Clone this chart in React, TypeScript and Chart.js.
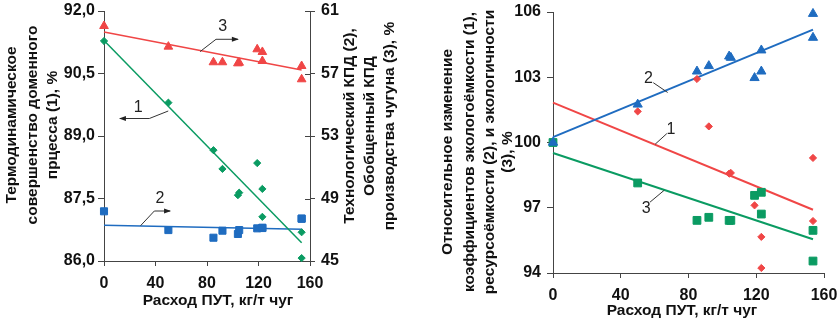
import React, { useEffect, useRef } from "react";
import { Chart, registerables } from "chart.js";

Chart.register(...registerables);

// ---------- data ----------
const putConsumption = [0, 50, 85, 92, 104, 105, 119, 123, 123, 153.5, 153.5];

// left panel
const thermoPerfection = [91.28, 89.8, 88.66, 88.21, 87.58, 87.64, 88.35, 87.73, 87.06, 86.69, 86.07]; // (1), left axis
const techEfficiency = [48.18, 46.98, 46.49, 46.94, 46.73, 46.98, 47.09, 47.13, 47.11, 47.71, 47.71]; // (2), right axis
const generalEfficiency = [60.04, 58.72, 57.72, 57.72, 57.65, 57.69, 58.55, 58.38, 57.8, 57.48, 56.63]; // (3), right axis

const trendX = [0, 153.5];
const thermoTrend = [91.29, 86.44];
const techTrend = [47.29, 47.03];
const generalTrend = [59.65, 57.22];

// right panel
const ecoIntensity = [100, 101.43, 102.92, 100.74, 98.57, 98.6, 97.11, 95.66, 94.23, 99.29, 96.39]; // (1)
const resIntensity = [100, 101.75, 103.27, 103.52, 103.96, 103.9, 102.97, 104.24, 103.27, 105.92, 104.82]; // (2)
const ecoFriendliness = [100, 98.14, 96.42, 96.56, 96.42, 96.42, 97.57, 97.71, 96.71, 95.96, 94.55]; // (3)

const ecoIntensityTrend = [101.83, 96.91];
const resIntensityTrend = [100.25, 105.19];
const ecoFriendlinessTrend = [99.52, 95.55];

// axis ranges / ticks
const xRange = [0, 160, 40];
const leftYRange = [86, 92, 1.5];
const leftY2Range = [45, 61, 4];
const rightYRange = [94, 106, 3];

// texts
const xTitle = "Расход ПУТ, кг/т чуг";
const leftYTitle = ["Термодинамическое", "совершенство доменного", "прцесса (1), %"];
const leftY2Title = ["Технологический КПД (2),", "Обобщенный КПД", "производства чугуна (3), %"];
const rightYTitle = [
  "Относительное изменение",
  "коэффициентов экологоёмкости (1),",
  "ресурсоёмкости (2), и экологичности",
  "(3), %",
];

type Ann = { text: string; tx: number; ty: number; path: [number, number][]; arrow?: "left" | "right"; yAxis: string };

const leftAnnotations: Ann[] = [
  { text: "3", tx: 92.2, ty: 60.0, path: [[74.6, 58.4], [87, 59.19], [104, 59.19]], arrow: "right", yAxis: "y2" },
  { text: "1", tx: 26.6, ty: 89.69, path: [[49.9, 89.6], [35.2, 89.42], [12.4, 89.42]], arrow: "left", yAxis: "y" },
  { text: "2", tx: 43.5, ty: 48.97, path: [[28.4, 47.26], [39.1, 48.2], [51.3, 48.2]], arrow: "right", yAxis: "y2" },
];
const rightAnnotations: Ann[] = [
  { text: "2", tx: 56.3, ty: 102.95, path: [[59.2, 102.75], [67.7, 102.3]], yAxis: "y" },
  { text: "1", tx: 69.7, ty: 100.6, path: [[67.2, 100.41], [60.3, 99.92]], yAxis: "y" },
  { text: "3", tx: 55, ty: 96.96, path: [[57.3, 97.26], [65.6, 97.8]], yAxis: "y" },
];

// ---------- styles ----------
const GREEN = "#0a9b62";
const RED = "#f04646";
const BLUE = "#1f6cc0";
const AXIS = "#444";
const TEXT = "#111";
const FONT_FAMILY = "'Liberation Sans', Arial, sans-serif";
const tickFont = { family: FONT_FAMILY, size: 16, weight: "bold" as const };

const pts = (xs: number[], ys: number[]) => xs.map((x, i) => ({ x, y: ys[i] }));
const fmtComma = (v: number) => v.toFixed(1).replace(".", ",");

function annotationPlugin(anns: Ann[]) {
  return {
    id: "anns",
    afterDatasetsDraw(chart: any) {
      const ctx = chart.ctx as CanvasRenderingContext2D;
      const xs = chart.scales.x;
      ctx.save();
      ctx.strokeStyle = "#333";
      ctx.fillStyle = "#222";
      ctx.lineWidth = 1;
      for (const a of anns) {
        const ys = chart.scales[a.yAxis];
        const p = a.path.map(([x, y]) => [xs.getPixelForValue(x), ys.getPixelForValue(y)]);
        ctx.beginPath();
        p.forEach(([px, py], i) => (i ? ctx.lineTo(px, py) : ctx.moveTo(px, py)));
        ctx.stroke();
        if (a.arrow) {
          const [ex, ey] = p[p.length - 1];
          const d = a.arrow === "right" ? 1 : -1;
          ctx.beginPath();
          ctx.moveTo(ex + d * 1, ey);
          ctx.lineTo(ex - d * 6, ey - 2.5);
          ctx.lineTo(ex - d * 6, ey + 2.5);
          ctx.closePath();
          ctx.fill();
        }
        ctx.font = `16px ${FONT_FAMILY}`;
        ctx.textAlign = "center";
        ctx.textBaseline = "middle";
        ctx.fillText(a.text, xs.getPixelForValue(a.tx), ys.getPixelForValue(a.ty));
      }
      ctx.restore();
    },
  };
}

type TitleSpec = { lines: string[]; xs: number[]; cy: number };
function titlesPlugin(vTitles: TitleSpec[], xT: { cx: number; baseline: number }, innerRightTicks: boolean) {
  return {
    id: "titles",
    afterDraw(chart: any) {
      const ctx = chart.ctx as CanvasRenderingContext2D;
      ctx.save();
      ctx.fillStyle = TEXT;
      ctx.font = `bold 15.5px ${FONT_FAMILY}`;
      for (const t of vTitles) {
        t.lines.forEach((line, i) => {
          ctx.save();
          ctx.translate(t.xs[i], t.cy);
          ctx.rotate(-Math.PI / 2);
          ctx.textAlign = "center";
          ctx.textBaseline = "middle";
          ctx.fillText(line, 0, 0);
          ctx.restore();
        });
      }
      ctx.textAlign = "center";
      ctx.textBaseline = "alphabetic";
      ctx.fillText(xTitle, xT.cx, xT.baseline);
      if (innerRightTicks && chart.scales.y2) {
        const s = chart.scales.y2;
        const r = chart.chartArea.right;
        ctx.strokeStyle = AXIS;
        ctx.lineWidth = 1;
        s.ticks.forEach((tk: any) => {
          const y = Math.round(s.getPixelForValue(tk.value)) + 0.5;
          ctx.beginPath();
          ctx.moveTo(r - 5, y);
          ctx.lineTo(r, y);
          ctx.stroke();
        });
      }
      ctx.restore();
    },
  };
}

function axisCommon(tickLength: number) {
  return {
    grid: { display: true, drawOnChartArea: false, drawTicks: true, tickLength, color: AXIS, lineWidth: 1 },
    border: { display: true, color: AXIS, width: 1 },
  };
}

function xScale(height: number) {
  return {
    type: "linear" as const,
    min: xRange[0],
    max: xRange[1],
    ...axisCommon(5),
    ticks: { stepSize: xRange[2], font: tickFont, color: TEXT, padding: 8, maxRotation: 0 },
    afterFit: (s: any) => {
      s.height = height;
      s.paddingLeft = 0;
      s.paddingRight = 0;
    },
  };
}

export default function App() {
  const leftRef = useRef<HTMLCanvasElement>(null);
  const rightRef = useRef<HTMLCanvasElement>(null);

  useEffect(() => {
    const trendDs = (ys: number[], color: string, yAxisID: string, width: number) => ({
      data: pts(trendX, ys),
      showLine: true,
      borderColor: color,
      borderWidth: width,
      pointRadius: 0,
      yAxisID,
      fill: false,
      clip: false,
    });
    const markDs = (ys: number[], color: string, style: string, radius: number, yAxisID: string) => ({
      data: pts(putConsumption, ys),
      showLine: false,
      pointStyle: style,
      pointRadius: radius,
      pointBackgroundColor: color,
      pointBorderColor: color,
      pointBorderWidth: 1,
      yAxisID,
      clip: false,
    });

    const left = new Chart(leftRef.current!, {
      type: "scatter",
      data: {
        datasets: [
          markDs(techEfficiency, BLUE, "rect", 5, "y2"),
          markDs(thermoPerfection, GREEN, "rectRot", 3.6, "y"),
          markDs(generalEfficiency, RED, "triangle", 5, "y2"),
          trendDs(thermoTrend, GREEN, "y", 1.5),
          trendDs(techTrend, BLUE, "y2", 1.5),
          trendDs(generalTrend, RED, "y2", 1.5),
        ] as any,
      },
      options: {
        animation: false,
        responsive: false,
        layout: { padding: { top: 11, left: 0, right: 0, bottom: 0 } },
        plugins: { legend: { display: false }, tooltip: { enabled: false } },
        scales: {
          x: xScale(61),
          y: {
            type: "linear",
            position: "left",
            min: leftYRange[0],
            max: leftYRange[1],
            ...axisCommon(6),
            ticks: { stepSize: leftYRange[2], font: tickFont, color: TEXT, padding: 3, callback: (v: any) => fmtComma(Number(v)) },
            afterFit: (s: any) => {
              s.width = 104;
              s.paddingTop = 0;
              s.paddingBottom = 0;
            },
          },
          y2: {
            type: "linear",
            position: "right",
            min: leftY2Range[0],
            max: leftY2Range[1],
            ...axisCommon(5),
            ticks: { stepSize: leftY2Range[2], font: tickFont, color: TEXT, padding: 6 },
            afterFit: (s: any) => {
              s.width = 110;
              s.paddingTop = 0;
              s.paddingBottom = 0;
            },
          },
        } as any,
      },
      plugins: [
        annotationPlugin(leftAnnotations),
        titlesPlugin(
          [
            { lines: leftYTitle, xs: [12, 33, 53], cy: 125 },
            { lines: leftY2Title, xs: [350, 370, 390], cy: 126 },
          ],
          { cx: 218, baseline: 305 },
          true
        ),
      ],
    });

    const right = new Chart(rightRef.current!, {
      type: "scatter",
      data: {
        datasets: [
          markDs(resIntensity, BLUE, "triangle", 5.3, "y"),
          markDs(ecoFriendliness, GREEN, "rect", 5.5, "y"),
          markDs(ecoIntensity, RED, "rectRot", 3.6, "y"),
          trendDs(resIntensityTrend, BLUE, "y", 2),
          trendDs(ecoIntensityTrend, RED, "y", 2),
          trendDs(ecoFriendlinessTrend, GREEN, "y", 2),
        ] as any,
      },
      options: {
        animation: false,
        responsive: false,
        layout: { padding: { top: 12, left: 0, right: 15, bottom: 0 } },
        plugins: { legend: { display: false }, tooltip: { enabled: false } },
        scales: {
          x: xScale(49),
          y: {
            type: "linear",
            position: "left",
            min: rightYRange[0],
            max: rightYRange[1],
            ...axisCommon(6),
            ticks: { stepSize: rightYRange[2], font: tickFont, color: TEXT, padding: 6 },
            afterFit: (s: any) => {
              s.width = 133;
              s.paddingTop = 0;
              s.paddingBottom = 0;
            },
          },
        } as any,
      },
      plugins: [
        annotationPlugin(rightAnnotations),
        titlesPlugin([{ lines: rightYTitle, xs: [28, 50, 70, 88], cy: 152 }], { cx: 262, baseline: 315 }, false),
      ],
    });

    return () => {
      left.destroy();
      right.destroy();
    };
  }, []);

  return (
    <div style={{ position: "fixed", left: 0, top: 0, width: 839, height: 322, background: "#fff" }}>
      <canvas ref={leftRef} width={420} height={322} style={{ position: "absolute", left: 0, top: 0 }} />
      <canvas ref={rightRef} width={419} height={322} style={{ position: "absolute", left: 420, top: 0 }} />
    </div>
  );
}
